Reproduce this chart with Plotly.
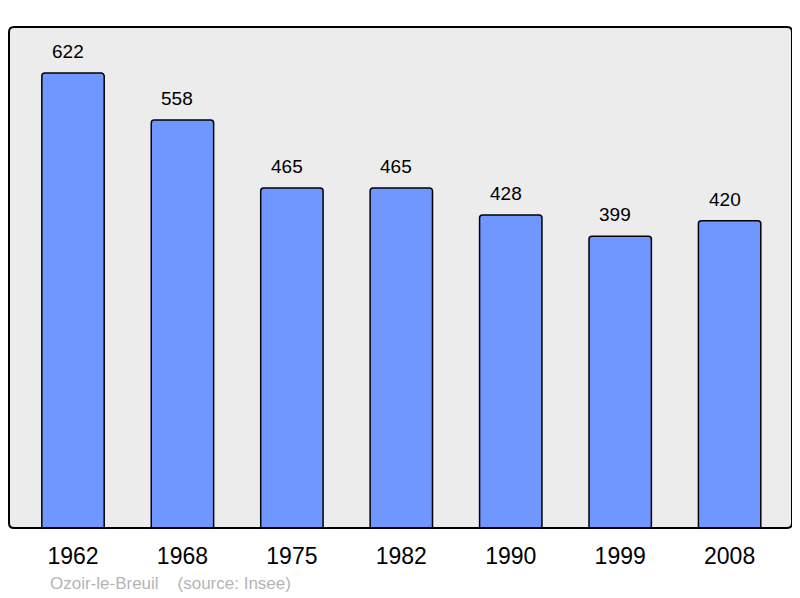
import plotly.graph_objects as go

years = ["1962", "1968", "1975", "1982", "1990", "1999", "2008"]
population = [622, 558, 465, 465, 428, 399, 420]
place = "Ozoir-le-Breuil"
source = "(source: Insee)"

W, H = 792, 590
L, R, T, B = 1, 8, 19, 70
pw, ph = W - L - R, H - T - B

fig = go.Figure()
fig.add_trace(go.Bar(
    x=years, y=population, width=0.57,
    marker=dict(color="#7096ff", line=dict(color="#000000", width=1.5), cornerradius=3),
    hoverinfo="skip",
))
for i, v in enumerate(population):
    fig.add_annotation(x=i, y=v, text=str(v), showarrow=False, yanchor="bottom",
                       yshift=9, xshift=-5,
                       font=dict(family="Liberation Sans, Arial", size=19, color="#000"))

fig.add_annotation(xref="paper", yref="paper", x=(48 - L - 8) / pw, y=-(575 - (T + ph)) / ph,
                   xanchor="left", yanchor="middle",
                   text=place + "&nbsp;&nbsp;&nbsp;&nbsp;" + source, showarrow=False,
                   font=dict(family="Liberation Sans, Arial", size=17, color="#b4b4b4"))

# rounded border
r = 5.0
rx, ry = r / pw, r / ph
path = (f"M {rx} 0 L {1 - rx} 0 Q 1 0 1 {ry} L 1 {1 - ry} Q 1 1 {1 - rx} 1 "
        f"L {rx} 1 Q 0 1 0 {1 - ry} L 0 {ry} Q 0 0 {rx} 0 Z")
fig.add_shape(type="path", xref="paper", yref="paper", path=path,
              line=dict(color="#000", width=2), fillcolor="rgba(0,0,0,0)", layer="above")

fig.update_layout(
    width=W, height=H,
    margin=dict(l=L, r=R, t=T, b=B),
    paper_bgcolor="#ffffff", plot_bgcolor="#ececec",
    showlegend=False,
    font=dict(family="Liberation Sans, Arial", color="#000"),
    xaxis=dict(range=[-0.585, 6.57], showgrid=False, ticks="", showline=False,
               tickfont=dict(size=23), ticklabelstandoff=12, fixedrange=True),
    yaxis=dict(range=[0, 685], showgrid=False, showticklabels=False, zeroline=False,
               showline=False, fixedrange=True),
)
fig.write_html("out.html")
